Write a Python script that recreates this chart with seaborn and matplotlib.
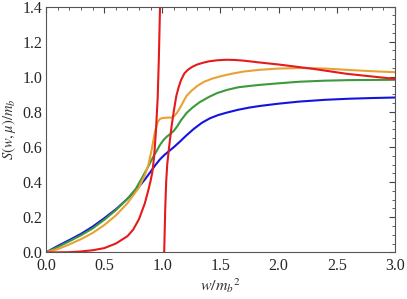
import numpy as np
import pandas as pd
import matplotlib
matplotlib.use("Agg")
import matplotlib.pyplot as plt
from matplotlib.ticker import MultipleLocator
import seaborn as sns

# curves
blue_x = [0, 0.1, 0.2, 0.3, 0.4, 0.5, 0.6, 0.7, 0.8, 0.85, 0.9, 0.94, 0.98, 1.02, 1.06, 1.1,
          1.15, 1.2, 1.27, 1.34, 1.41, 1.48, 1.554, 1.65, 1.75, 1.84, 2.0, 2.18, 2.4, 2.6, 2.8, 3.0]
blue_y = [0, 0.036, 0.07, 0.105, 0.146, 0.194, 0.245, 0.305, 0.375, 0.415, 0.46, 0.497, 0.53,
          0.556, 0.578, 0.6, 0.63, 0.662, 0.703, 0.738, 0.764, 0.782, 0.796, 0.812, 0.825,
          0.834, 0.847, 0.859, 0.869, 0.875, 0.879, 0.882]

green_x = [0, 0.1, 0.2, 0.3, 0.4, 0.5, 0.6, 0.7, 0.77, 0.83, 0.88, 0.91, 0.94, 0.98, 1.01, 1.04,
           1.07, 1.1, 1.13, 1.16, 1.21, 1.26, 1.32, 1.4, 1.47, 1.554, 1.65, 1.75, 1.84, 2.0,
           2.18, 2.4, 2.6, 2.8, 3.0]
green_y = [0, 0.03, 0.063, 0.097, 0.136, 0.185, 0.24, 0.305, 0.36, 0.43, 0.49, 0.53, 0.565,
           0.612, 0.64, 0.66, 0.675, 0.693, 0.72, 0.752, 0.795, 0.825, 0.855, 0.885, 0.907,
           0.925, 0.94, 0.948, 0.954, 0.963, 0.972, 0.978, 0.981, 0.982, 0.983]

orange_x = [0, 0.1, 0.2, 0.3, 0.4, 0.5, 0.6, 0.7, 0.8, 0.85, 0.88, 0.91, 0.937, 0.96, 0.98, 1.0,
            1.03, 1.08, 1.1, 1.123, 1.145, 1.166, 1.19, 1.21, 1.25, 1.3, 1.36, 1.43, 1.5, 1.6,
            1.7, 1.84, 2.0, 2.2, 2.4, 2.6, 2.8, 3.0]
orange_y = [0, 0.018, 0.045, 0.075, 0.11, 0.155, 0.21, 0.28, 0.37, 0.44, 0.498, 0.59, 0.688,
            0.742, 0.76, 0.765, 0.767, 0.768, 0.775, 0.792, 0.815, 0.84, 0.87, 0.893, 0.92,
            0.948, 0.972, 0.99, 1.003, 1.018, 1.03, 1.04, 1.047, 1.05, 1.047, 1.039, 1.032, 1.026]

# red has a pole near w = m_b^2: two branches
red1_x = [0, 0.1, 0.2, 0.3, 0.4, 0.5, 0.6, 0.7, 0.75, 0.8, 0.85, 0.88, 0.9, 0.915, 0.93, 0.945,
          0.96, 0.97, 0.98, 0.985]
red1_y = [0, 0.0, 0.001, 0.005, 0.012, 0.024, 0.05, 0.092, 0.13, 0.19, 0.28, 0.355, 0.41, 0.46,
          0.55, 0.69, 0.88, 1.1, 1.39, 1.55]
red2_x = [1.012, 1.016, 1.025, 1.033, 1.042, 1.06, 1.08, 1.1, 1.12, 1.14, 1.16, 1.19, 1.22,
          1.26, 1.3, 1.35, 1.4, 1.47, 1.55, 1.62, 1.7, 1.83, 2.0, 2.3, 2.585, 3.0]
red2_y = [-0.05, 0.0, 0.25, 0.4, 0.5, 0.61, 0.72, 0.81, 0.89, 0.94, 0.98, 1.02, 1.04, 1.058,
          1.07, 1.08, 1.088, 1.094, 1.097, 1.096, 1.092, 1.082, 1.07, 1.045, 1.017, 0.988]

curves = [
    (blue_x, blue_y, "#1414e0"),
    (green_x, green_y, "#3c9a3c"),
    (orange_x, orange_y, "#e8a232"),
    (red1_x, red1_y, "#e61a1a"),
    (red2_x, red2_y, "#e61a1a"),
]

sns.set_style("white")
plt.rcParams["mathtext.fontset"] = "stix"
plt.rcParams["font.family"] = ["Liberation Serif", "DejaVu Serif"]

fig = plt.figure(figsize=(4.07, 2.99), dpi=100)
ax = fig.add_axes([0.113, 0.156, 0.8575, 0.822])

for xs, ys, col in curves:
    df = pd.DataFrame({"w": xs, "S": ys})
    sns.lineplot(data=df, x="w", y="S", ax=ax, color=col, lw=1.5,
                 sort=False, estimator=None)

ax.set_xlim(0, 3)
ax.set_ylim(0, 1.4)
ax.xaxis.set_major_locator(MultipleLocator(0.5))
ax.xaxis.set_minor_locator(MultipleLocator(0.1))
ax.yaxis.set_major_locator(MultipleLocator(0.2))
ax.yaxis.set_minor_locator(MultipleLocator(0.05))
ax.xaxis.set_major_formatter(plt.FuncFormatter(lambda v, p: f"{v:.1f}"))
ax.yaxis.set_major_formatter(plt.FuncFormatter(lambda v, p: f"{v:.1f}"))
ax.tick_params(which="both", direction="in", top=True, right=True,
               color="#444444", labelsize=11.5)
ax.tick_params(axis="x", which="major", pad=4)
ax.tick_params(axis="y", which="major", pad=2.5)
ax.tick_params(which="major", length=4, width=0.8)
ax.tick_params(which="minor", length=2, width=0.6)
for s in ax.spines.values():
    s.set_color("#555555")
    s.set_linewidth(0.8)

ax.set_xlabel(r"$w/{m_b}^2$", fontsize=11.5, color="#333333", labelpad=2)
ax.set_ylabel(r"$S(w,\mu)/m_b$", fontsize=10.5, color="#333333", labelpad=3)

fig.savefig("out.png", dpi=100)
